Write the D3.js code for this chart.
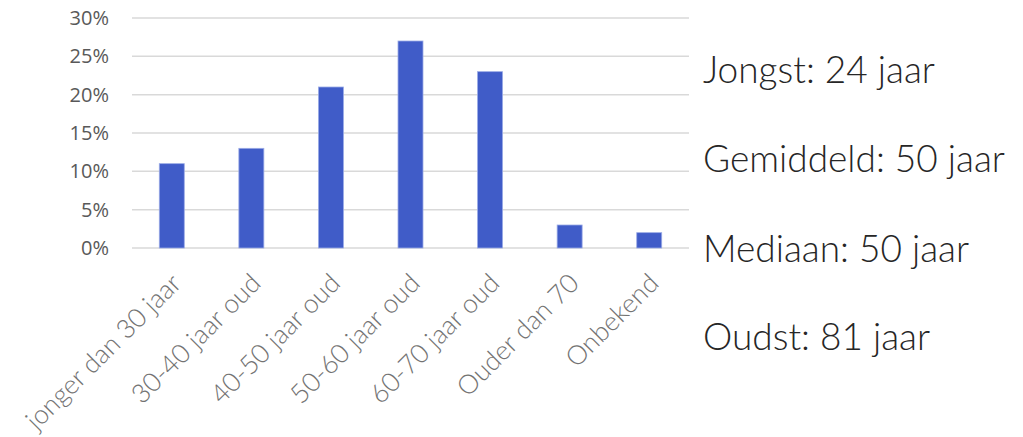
<!DOCTYPE html>
<html>
<head>
<meta charset="utf-8">
<script src="https://cdn.jsdelivr.net/npm/d3@7"></script>
<style>
  html, body { margin: 0; padding: 0; background: #ffffff; }
  svg { display: block; }
</style>
</head>
<body>
<svg id="chart" width="1023" height="437"></svg>
<script>
const categories = ["jonger dan 30 jaar", "30-40 jaar oud", "40-50 jaar oud", "50-60 jaar oud", "60-70 jaar oud", "Ouder dan 70", "Onbekend"];
const percentages = [11, 13, 21, 27, 23, 3, 2];
const yTicks = [0, 5, 10, 15, 20, 25, 30];
const statsLines = ["Jongst: 24 jaar", "Gemiddeld: 50 jaar", "Mediaan: 50 jaar", "Oudst: 81 jaar"];

const svg = d3.select("#chart");

const x = d3.scaleBand().domain(categories).range([132, 689]).paddingInner(0.686).paddingOuter(0.343);
const y = d3.scaleLinear().domain([0, 30]).range([248, 18]);

// gridlines
svg.append("g")
  .selectAll("line")
  .data(yTicks)
  .join("line")
  .attr("x1", 132).attr("x2", 689)
  .attr("y1", d => y(d)).attr("y2", d => y(d))
  .attr("stroke", "#d9d9d9")
  .attr("stroke-width", 1.5);

// y axis labels
const yAxis = d3.axisLeft(y).tickValues(yTicks).tickFormat(d => d + "%").tickSize(0).tickPadding(0);
const yg = svg.append("g").attr("transform", "translate(109,0)").call(yAxis);
yg.select(".domain").remove();
yg.selectAll("text")
  .attr("font-family", "'Open Sans', 'Noto Sans', sans-serif")
  .attr("font-size", 20)
  .attr("fill", "#595959");

// bars
svg.append("g")
  .selectAll("rect")
  .data(categories)
  .join("rect")
  .attr("x", d => x(d))
  .attr("width", x.bandwidth())
  .attr("y", (d, i) => y(percentages[i]))
  .attr("height", (d, i) => y(0) - y(percentages[i]))
  .attr("fill", "#405CC8")
  .attr("stroke", "#9AAAE6")
  .attr("stroke-width", 0.8);

// x labels
svg.append("g")
  .selectAll("text")
  .data(categories)
  .join("text")
  .attr("transform", d => `translate(${x(d) + x.bandwidth() / 2 + 11},285) rotate(-45)`)
  .attr("text-anchor", "end")
  .attr("font-family", "Lato, sans-serif")
  .attr("font-weight", 300)
  .attr("font-size", 26.5)
  .attr("fill", "#737373")
  .text(d => d);

// stats text
const baselines = [83, 172, 262, 350];
svg.append("g")
  .selectAll("text")
  .data(statsLines)
  .join("text")
  .attr("x", 703)
  .attr("y", (d, i) => baselines[i])
  .attr("font-family", "Lato, sans-serif")
  .attr("font-weight", 300)
  .attr("font-size", 37)
  .attr("fill", "#262626")
  .text(d => d);
</script>
</body>
</html>
